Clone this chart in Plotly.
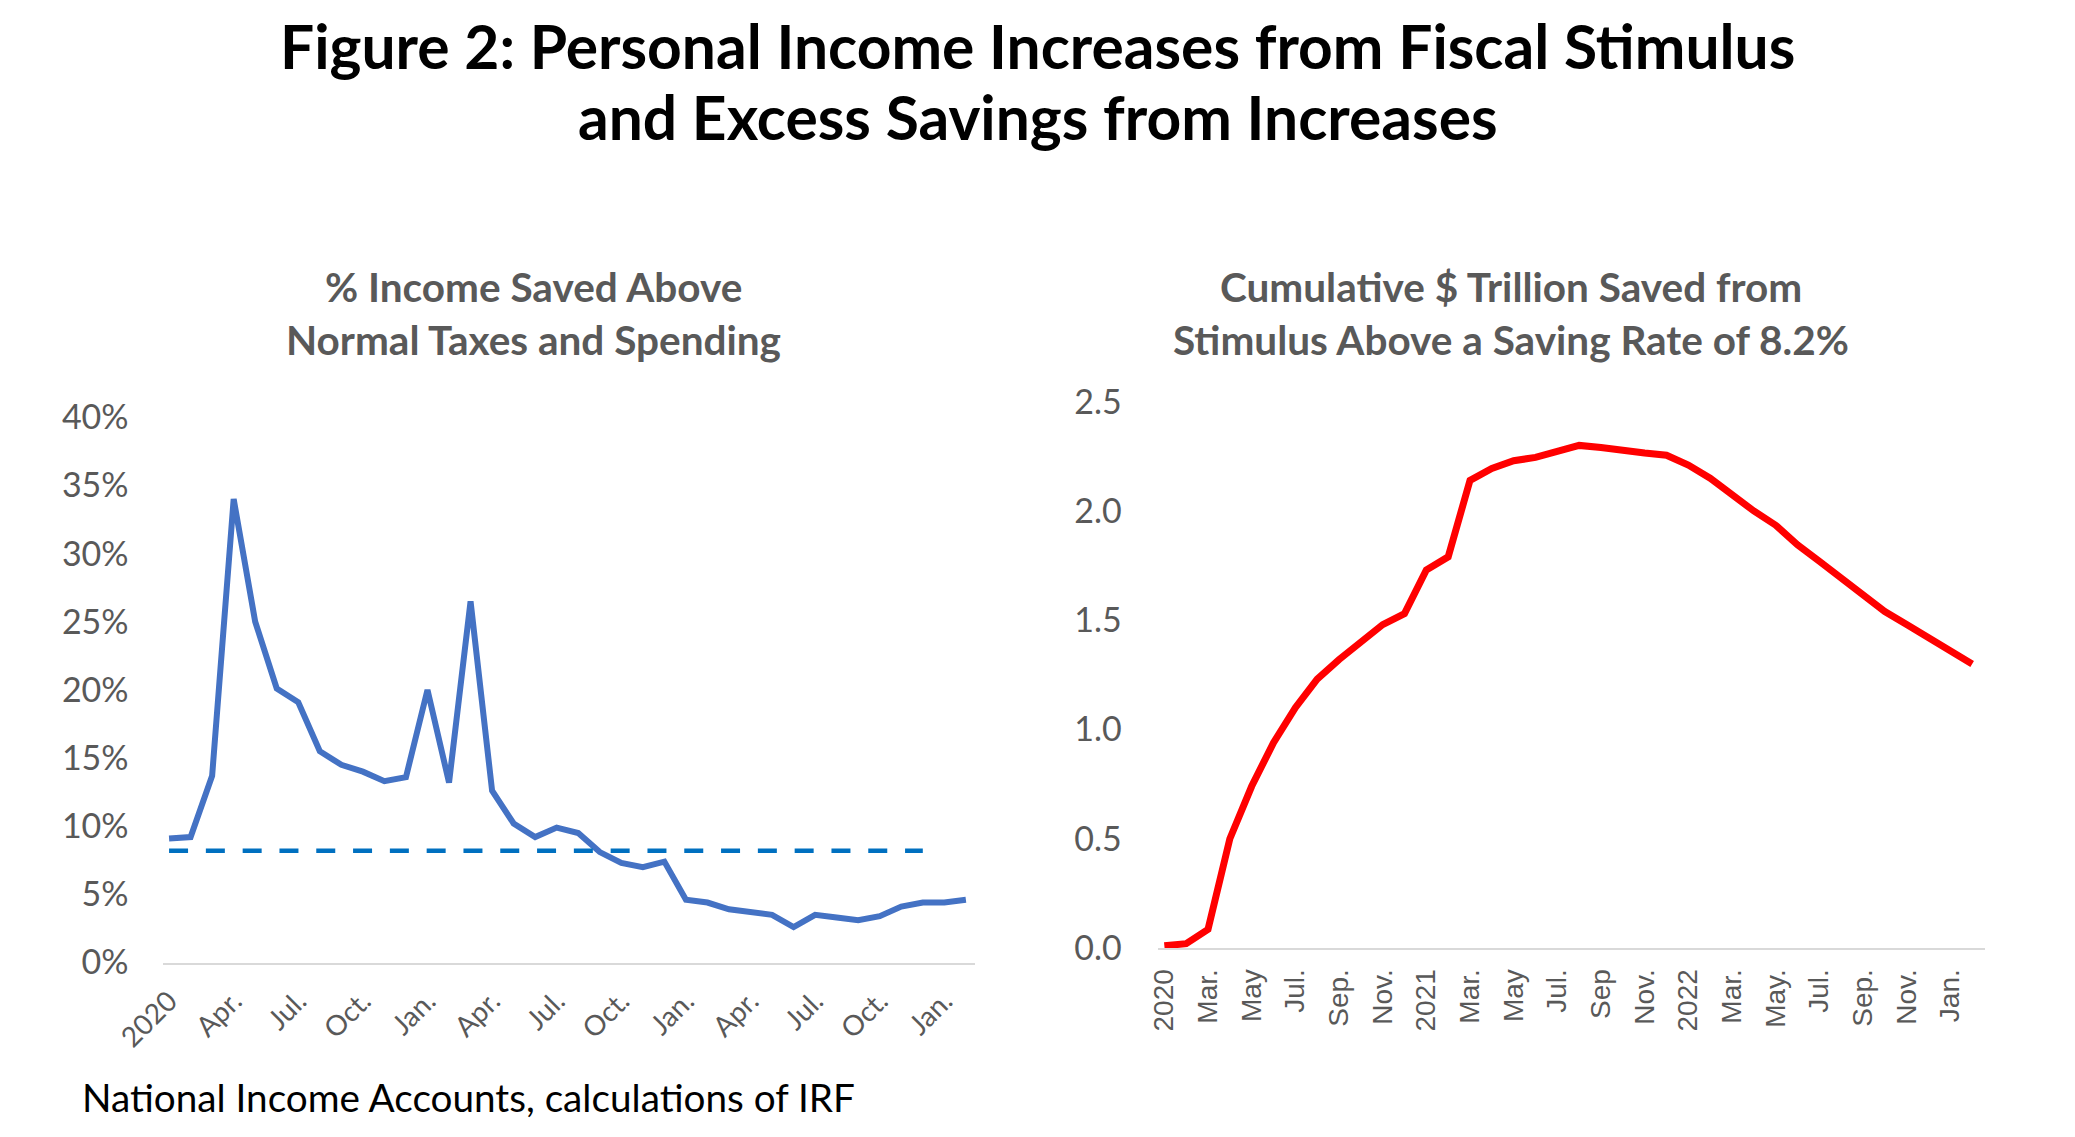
import plotly.graph_objects as go

W, H = 2075, 1137

# ---- data ----
month_names = ["Jan", "Feb", "Mar", "Apr", "May", "Jun", "Jul", "Aug", "Sep", "Oct", "Nov", "Dec"]
months = [f"{m} {y}" for y in (2020, 2021, 2022, 2023) for m in month_names][:38]  # Jan 2020 - Feb 2023

pct_saved_above_normal = [
    9.1, 9.2, 13.7, 34.0, 25.0, 20.1, 19.1, 15.5, 14.5, 14.0, 13.3, 13.6,
    20.0, 13.2, 26.5, 12.6, 10.2, 9.2, 9.9, 9.5, 8.1, 7.3, 7.0, 7.4,
    4.6, 4.4, 3.9, 3.7, 3.5, 2.6, 3.5, 3.3, 3.1, 3.4, 4.1, 4.4, 4.4, 4.6,
]
normal_saving_rate = 8.2
normal_rate_end = "Dec 2022"

cum_trillion_saved = [
    0.01, 0.02, 0.085, 0.50, 0.74, 0.94, 1.10, 1.23, 1.32, 1.40, 1.48, 1.53,
    1.73, 1.79, 2.14, 2.195, 2.23, 2.245, 2.27, 2.30, 2.29, 2.275, 2.265, 2.255,
    2.21, 2.15, 2.07, 2.00, 1.935, 1.845, 1.77, 1.69, 1.615, 1.54, 1.48, 1.42,
    1.355, 1.30,
]

left_tickvals = months[0:37:3]
left_ticktext = ["2020", "Apr.", "Jul.", "Oct.", "Jan.", "Apr.", "Jul.", "Oct.",
                 "Jan.", "Apr.", "Jul.", "Oct.", "Jan."]
right_tickvals = months[0:37:2]
right_ticktext = ["2020", "Mar.", "May", "Jul.", "Sep.", "Nov.", "2021", "Mar.", "May",
                  "Jul.", "Sep", "Nov.", "2022", "Mar.", "May.", "Jul.", "Sep.", "Nov.", "Jan."]

main_title = ["Figure 2: Personal Income Increases from Fiscal Stimulus",
              "and Excess Savings from Increases"]
left_title = ["% Income Saved Above", "Normal Taxes and Spending"]
right_title = ["Cumulative $ Trillion Saved from", "Stimulus Above a Saving Rate of 8.2%"]
source_note = "National Income Accounts, calculations of IRF"

GRAY = "#595959"
FONT = "Lato"


def px_x(x):
    return x / W


def px_y(y):
    return 1 - y / H


fig = go.Figure()

fig.add_trace(go.Scatter(
    x=months, y=pct_saved_above_normal, mode="lines",
    line=dict(color="#4472C4", width=6), xaxis="x", yaxis="y",
    hoverinfo="skip", showlegend=False,
))
fig.add_trace(go.Scatter(
    x=[months[0], normal_rate_end], y=[normal_saving_rate, normal_saving_rate], mode="lines",
    line=dict(color="#0070C0", width=4.5, dash="19px,17.8px"), xaxis="x", yaxis="y",
    hoverinfo="skip", showlegend=False,
))
fig.add_trace(go.Scatter(
    x=months, y=cum_trillion_saved, mode="lines",
    line=dict(color="#FF0000", width=7), xaxis="x2", yaxis="y2",
    hoverinfo="skip", showlegend=False,
))

axis_common = dict(showgrid=False, zeroline=False, automargin=False)

fig.update_layout(
    width=W, height=H,
    margin=dict(l=0, r=0, t=0, b=0, autoexpand=False),
    paper_bgcolor="white", plot_bgcolor="white",
    font=dict(family=FONT, color=GRAY),
    xaxis=dict(
        **axis_common, domain=[px_x(162.6), px_x(974.5)], anchor="y",
        type="category", categoryorder="array", categoryarray=months,
        range=[-0.3, 37.4], tickmode="array", tickvals=left_tickvals, ticktext=left_ticktext,
        tickangle=-45, tickfont=dict(family=FONT, size=28, color=GRAY),
        showline=True, linecolor="#D9D9D9", linewidth=2, ticks="", layer="below traces",
        ticklabelstandoff=9,
    ),
    yaxis=dict(
        **axis_common, domain=[px_y(962.5), px_y(417.3)], anchor="x",
        range=[0, 40], dtick=5, ticksuffix="%", tickfont=dict(family=FONT, size=34, color=GRAY),
        showline=False, ticks="", ticklabelstandoff=33,
    ),
    xaxis2=dict(
        **axis_common, domain=[px_x(1157.8), px_x(1984.6)], anchor="y2",
        type="category", categoryorder="array", categoryarray=months,
        range=[-0.3, 37.57], tickmode="array", tickvals=right_tickvals, ticktext=right_ticktext,
        tickangle=-90, tickfont=dict(family="Liberation Sans", size=28, color=GRAY),
        showline=True, linecolor="#D9D9D9", linewidth=2, ticks="", layer="below traces",
        ticklabelstandoff=8,
    ),
    yaxis2=dict(
        **axis_common, domain=[px_y(948), px_y(401.7)], anchor="x2",
        range=[0, 2.5], dtick=0.5, tickformat=".1f", tickfont=dict(family=FONT, size=34, color=GRAY),
        showline=False, ticks="", ticklabelstandoff=35,
    ),
)

annotations = []
for text, yc in zip(main_title, (45, 116.5)):
    annotations.append(dict(text=f"<b>{text}</b>", x=0.5, y=px_y(yc), xref="paper", yref="paper",
                            xanchor="center", yanchor="middle", showarrow=False,
                            font=dict(family=FONT, size=60.5, color="black")))
for text, yc in zip(left_title, (286.5, 339.4)):
    annotations.append(dict(text=f"<b>{text}</b>", x=px_x(533), y=px_y(yc), xref="paper", yref="paper",
                            xanchor="center", yanchor="middle", showarrow=False,
                            font=dict(family=FONT, size=40.5, color=GRAY)))
for text, yc in zip(right_title, (286.5, 339.4)):
    annotations.append(dict(text=f"<b>{text}</b>", x=px_x(1511), y=px_y(yc), xref="paper", yref="paper",
                            xanchor="center", yanchor="middle", showarrow=False,
                            font=dict(family=FONT, size=40.5, color=GRAY)))
annotations.append(dict(text=source_note, x=px_x(80), y=px_y(1097), xref="paper", yref="paper",
                        xanchor="left", yanchor="middle", showarrow=False,
                        font=dict(family=FONT, size=38.7, color="black")))
fig.update_layout(annotations=annotations)

fig.write_html("out.html", config={"displayModeBar": False},
               post_script="document.body.style.margin='0px';")
